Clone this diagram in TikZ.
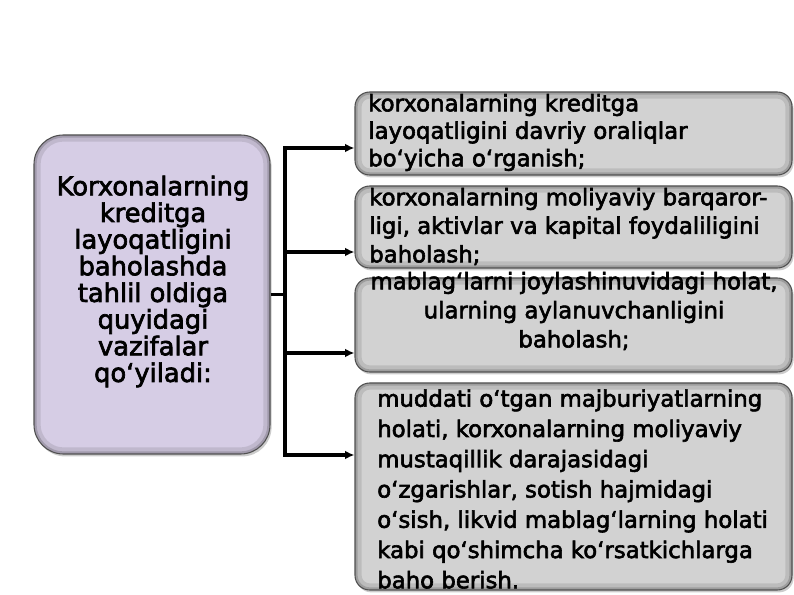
\documentclass[tikz,border=0pt]{standalone}
\usepackage{fontspec}
\setmainfont{DejaVu Sans}[FakeBold=2.6]
\usetikzlibrary{arrows.meta,shadows}
\definecolor{lilac}{RGB}{214,205,229}
\definecolor{boxgray}{RGB}{210,210,210}
\definecolor{edgegray}{RGB}{80,80,80}
\newdimen\px \px=0.75pt
\newcommand{\taskfont}[1]{\fontsize{17.1pt}{#1}\selectfont}
\tikzset{
  bevel/.style={path picture={%
      \draw[rounded corners=#1, line width=10pt, black, opacity=.10]
        (path picture bounding box.south west) rectangle (path picture bounding box.north east);
      \draw[rounded corners=#1, line width=4pt, black, opacity=.16]
        (path picture bounding box.south west) rectangle (path picture bounding box.north east);}},
  boxshadow/.style={drop shadow={shadow xshift=1.2pt, shadow yshift=-1.8pt, opacity=.4}},
  mainbox/.style={draw=edgegray, line width=0.8pt, fill=lilac, rounded corners=22pt,
    inner sep=0pt, minimum width=236\px, minimum height=319\px, bevel=22pt, boxshadow},
  taskbox/.style={draw=edgegray, line width=0.8pt, fill=boxgray, rounded corners=11pt,
    inner sep=0pt, minimum width=437\px, bevel=11pt, boxshadow},
  conn/.style={line width=2.4pt, black},
  arr/.style={conn, -{Latex[length=7pt,width=6.5pt]}}
}
\begin{document}
\begin{tikzpicture}[x=0.75pt,y=-0.75pt]
        \useasboundingbox (0,0) rectangle (794,595);                     %
        \node [mainbox]                       (lbox) at (152,294.5) {};  %main task
        \node [taskbox, minimum height=83\px]  (b1) at (573.5,133.5) {};  %1
        \node [taskbox, minimum height=82\px]  (b2) at (573.5,227)   {};  %2
        \node [taskbox, minimum height=94\px]  (b3) at (573.5,325)   {};  %3
        \node [taskbox, minimum height=207\px] (b4) at (573.5,486.5) {};  %4
        \node [align=center, inner sep=0pt, font=\fontsize{19.3pt}{20pt}\selectfont]
              (ltext) at (153,281.5)
              {Korxonalarning\\kreditga\\layoqatligini\\baholashda\\tahlil oldiga\\quyidagi\\vazifalar\\qo‘yiladi:};
        \node [align=left, inner sep=0pt, anchor=west, font=\taskfont{20.6pt}]
              (t1) at (368,132.5)
              {korxonalarning kreditga\\layoqatligini davriy oraliqlar\\bo‘yicha o‘rganish;};
        \node [align=left, inner sep=0pt, anchor=west, font=\taskfont{21.4pt}]
              (t2) at (369,226.5)
              {korxonalarning moliyaviy barqaror-\\ligi, aktivlar va kapital foydaliligini\\baholash;};
        \node [align=center, inner sep=0pt, font=\taskfont{21.8pt}]
              (t3) at (574,311)
              {mablag‘larni joylashinuvidagi holat,\\ularning aylanuvchanligini\\baholash;};
        \node [align=left, inner sep=0pt, anchor=west, font=\taskfont{22.7pt}]
              (t4) at (377,489)
              {muddati o‘tgan majburiyatlarning\\holati, korxonalarning moliyaviy\\mustaqillik darajasidagi\\o‘zgarishlar, sotish hajmidagi\\o‘sish, likvid mablag‘larning holati\\kabi qo‘shimcha ko‘rsatkichlarga\\baho berish.};
        \coordinate (fork) at (285,294.5);                               %
        \coordinate (k1)   at (285,148);                                 %
        \coordinate (k2)   at (285,252);                                 %
        \coordinate (k3)   at (285,353);                                 %
        \coordinate (k4)   at (285,455);                                 %
        \draw [conn]                 (lbox.east) -- (fork);              %
        \draw [conn, line cap=rect]  (k1) -- (k4);                       %
        \draw [arr]                  (k1) -- (k1 -| b1.west);            %
        \draw [arr]                  (k2) -- (k2 -| b2.west);            %
        \draw [arr]                  (k3) -- (k3 -| b3.west);            %
        \draw [arr]                  (k4) -- (k4 -| b4.west);            %
\end{tikzpicture}
\end{document}
